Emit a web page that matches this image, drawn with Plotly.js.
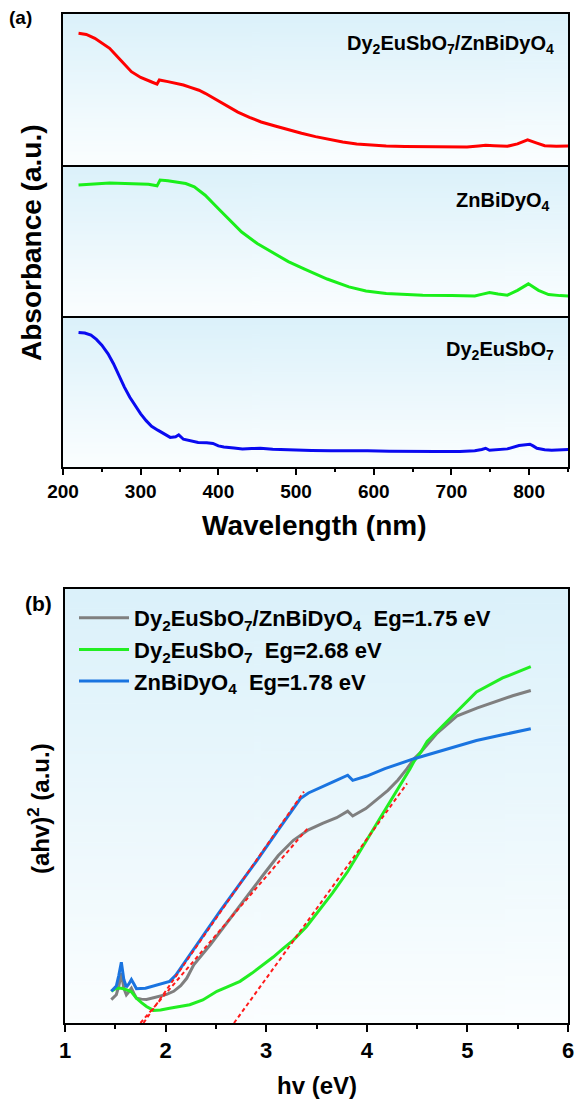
<!DOCTYPE html>
<html>
<head>
<meta charset="utf-8">
<script src="https://cdn.plot.ly/plotly-3.0.1.min.js"></script>
<style>
  html, body { margin: 0; padding: 0; background: #ffffff; }
  #chart { width: 575px; height: 1106px; }
</style>
</head>
<body>
<div id="chart"></div>
<script>
// ---------- (a) UV-vis absorbance spectra (normalised a.u. per sub-panel) ----------
const wlComposite = [220, 230, 241, 250, 260, 274, 288, 300, 307, 315, 321, 324, 335, 345, 355, 364, 375, 383, 395, 412, 425, 440, 455, 473, 490, 507, 525, 545, 560, 578, 600, 616, 640, 663, 690, 706, 720, 735, 744, 755, 772, 785, 798, 810, 820, 835, 851];
const absComposite = [0.872, 0.865, 0.839, 0.81, 0.773, 0.695, 0.618, 0.58, 0.563, 0.548, 0.536, 0.563, 0.552, 0.541, 0.53, 0.514, 0.495, 0.475, 0.44, 0.386, 0.35, 0.316, 0.285, 0.258, 0.232, 0.21, 0.188, 0.166, 0.152, 0.139, 0.131, 0.126, 0.123, 0.121, 0.119, 0.117, 0.12, 0.126, 0.13, 0.128, 0.124, 0.14, 0.166, 0.145, 0.128, 0.125, 0.126];

const wlZn = [220, 240, 260, 280, 298, 310, 321, 325, 335, 345, 358, 369, 383, 402, 415, 430, 450, 469, 490, 511, 540, 568, 590, 616, 640, 663, 700, 730, 740, 749, 760, 772, 785, 799, 812, 825, 840, 851];
const absZn = [0.867, 0.875, 0.88, 0.878, 0.876, 0.872, 0.862, 0.9, 0.896, 0.889, 0.877, 0.856, 0.8, 0.7, 0.63, 0.556, 0.48, 0.422, 0.36, 0.311, 0.245, 0.193, 0.166, 0.149, 0.142, 0.138, 0.135, 0.133, 0.145, 0.156, 0.146, 0.138, 0.17, 0.213, 0.17, 0.142, 0.135, 0.133];

const wlDy = [220, 228, 236, 243, 250, 258, 265, 272, 279, 286, 293, 300, 307, 314, 322, 330, 338, 345, 349, 355, 365, 374, 385, 393, 400, 407, 420, 431, 443, 454, 470, 497, 520, 545, 570, 592, 620, 640, 680, 711, 730, 739, 744, 749, 760, 772, 787, 801, 805, 810, 820, 829, 851];
const absDy = [0.891, 0.887, 0.873, 0.845, 0.807, 0.75, 0.684, 0.605, 0.529, 0.462, 0.407, 0.352, 0.307, 0.27, 0.244, 0.222, 0.196, 0.2, 0.213, 0.184, 0.173, 0.162, 0.16, 0.156, 0.14, 0.133, 0.126, 0.12, 0.122, 0.124, 0.118, 0.111, 0.109, 0.107, 0.108, 0.107, 0.104, 0.102, 0.102, 0.102, 0.108, 0.116, 0.124, 0.111, 0.114, 0.12, 0.142, 0.151, 0.14, 0.124, 0.114, 0.111, 0.116];

const wlTicks = [200, 300, 400, 500, 600, 700, 800];

// ---------- (b) Tauc plot, (αhν)^2 versus hν ----------
const hvComposite = [1.46, 1.51, 1.535, 1.56, 1.585, 1.61, 1.635, 1.66, 1.685, 1.71, 1.76, 1.81, 1.88, 1.94, 2.01, 2.08, 2.15, 2.21, 2.28, 2.45, 2.61, 2.79, 2.97, 3.12, 3.27, 3.42, 3.56, 3.7, 3.81, 3.86, 3.99, 4.1, 4.21, 4.31, 4.4, 4.47, 4.54, 4.7, 4.9, 5.1, 5.27, 5.45, 5.63];
const taucComposite = [5.4, 6.5, 8.5, 11.5, 8.0, 6.5, 7.2, 8.0, 6.8, 5.7, 5.5, 5.4, 5.8, 6.1, 6.6, 7.3, 8.6, 10.3, 13.4, 18.2, 23.0, 28.6, 34.1, 38.6, 42.1, 44.5, 46.0, 47.3, 48.8, 47.7, 49.4, 51.4, 53.6, 56.0, 58.6, 60.9, 62.5, 66.8, 70.8, 72.6, 74.0, 75.4, 76.6];

const hvDy = [1.46, 1.51, 1.56, 1.61, 1.66, 1.71, 1.76, 1.81, 1.88, 1.95, 2.04, 2.14, 2.24, 2.37, 2.51, 2.62, 2.74, 2.86, 2.97, 3.07, 3.17, 3.27, 3.4, 3.52, 3.66, 3.81, 3.94, 4.07, 4.18, 4.29, 4.43, 4.47, 4.54, 4.6, 4.8, 5.09, 5.35, 5.63];
const taucDy = [7.3, 8.0, 8.0, 7.7, 7.2, 5.7, 4.7, 3.8, 2.9, 3.0, 3.4, 3.8, 4.2, 5.3, 7.3, 8.4, 9.6, 11.5, 13.4, 15.2, 17.2, 19.1, 22.2, 25.7, 30.0, 34.9, 39.8, 44.8, 49.0, 53.3, 58.6, 60.3, 62.5, 64.9, 69.6, 76.3, 79.5, 82.1];

const hvZn = [1.46, 1.51, 1.535, 1.56, 1.585, 1.61, 1.635, 1.66, 1.685, 1.71, 1.8, 1.91, 2.04, 2.1, 2.25, 2.4, 2.54, 2.72, 2.9, 3.12, 3.34, 3.42, 3.52, 3.67, 3.81, 3.86, 4.0, 4.18, 4.47, 4.8, 5.09, 5.35, 5.63];
const taucZn = [7.3, 8.5, 11.0, 14.0, 10.0, 8.3, 9.0, 10.0, 9.0, 7.9, 8.0, 8.8, 9.6, 11.0, 16.1, 21.0, 25.7, 31.5, 37.2, 44.5, 51.7, 53.0, 54.0, 55.6, 57.1, 55.9, 56.9, 58.6, 60.9, 63.1, 65.1, 66.4, 67.8];

// band gaps (x-intercepts of the linear fits) and the upper end of each fit line
const seriesNames = ['Dy<sub>2</sub>EuSbO<sub>7</sub>/ZnBiDyO<sub>4</sub>', 'Dy<sub>2</sub>EuSbO<sub>7</sub>', 'ZnBiDyO<sub>4</sub>'];
const bandGaps = [1.75, 2.68, 1.78];
const fitEndHv = [3.41, 4.40, 3.375];
const fitEndTauc = [44.8, 55.2, 53.3];
const hvTicks = [1, 2, 3, 4, 5, 6];

// ---------- geometry helpers (pixel -> paper) ----------
const W = 575, H = 1106;
const px = v => v / W;
const py = v => 1 - v / H;

const FONT = 'Arial, "Liberation Sans", Helvetica, sans-serif';
const bold = (size) => ({ family: FONT, size: size, color: '#000000', weight: 'bold' });

// soft sky-blue vertical gradient used behind every frame
function gradientSource(top, bottom) {
  const c = document.createElement('canvas');
  c.width = 4; c.height = 256;
  const g = c.getContext('2d');
  const gr = g.createLinearGradient(0, 0, 0, 256);
  gr.addColorStop(0, top);
  gr.addColorStop(1, bottom);
  g.fillStyle = gr;
  g.fillRect(0, 0, 4, 256);
  return c.toDataURL('image/png');
}
const bgSrc = gradientSource('#dbf1fa', '#fbfeff');

// frame boundaries
const aLeft = 63, aRight = 568;
const aRows = [14, 165, 316, 467];        // top, two dividers, bottom of panel (a)
const bLeft = 65, bRight = 568, bTop = 589, bBottom = 1023;

function bgImage(x0, x1, y0, y1) {
  return { source: bgSrc, xref: 'paper', yref: 'paper', x: px(x0), y: py(y0),
           sizex: px(x1) - px(x0), sizey: py(y0) - py(y1), sizing: 'stretch',
           xanchor: 'left', yanchor: 'top', layer: 'below' };
}

const frameAxis = { showline: true, linecolor: '#000000', linewidth: 2, mirror: true,
                    showgrid: false, zeroline: false, fixedrange: true };

const traces = [
  // panel (a)
  { x: wlDy, y: absDy, xaxis: 'x', yaxis: 'y', mode: 'lines', showlegend: false,
    line: { color: '#0a0af0', width: 3 }, hoverinfo: 'skip' },
  { x: wlZn, y: absZn, xaxis: 'x2', yaxis: 'y2', mode: 'lines', showlegend: false,
    line: { color: '#1aef1a', width: 3 }, hoverinfo: 'skip' },
  { x: wlComposite, y: absComposite, xaxis: 'x3', yaxis: 'y3', mode: 'lines', showlegend: false,
    line: { color: '#ff0000', width: 3 }, hoverinfo: 'skip' },
];

// panel (b) curves
const taucColors = ['#7f7f7f', '#22ee22', '#1a74e0'];
const taucX = [hvComposite, hvDy, hvZn];
const taucY = [taucComposite, taucDy, taucZn];
for (let i = 0; i < 3; i++) {
  traces.push({
    x: taucX[i], y: taucY[i], xaxis: 'x4', yaxis: 'y4', mode: 'lines',
    name: seriesNames[i] + '\u00a0\u00a0Eg=' + bandGaps[i].toFixed(2) + ' eV',
    line: { color: taucColors[i], width: 3 }, hoverinfo: 'skip'
  });
}
// linear fits extrapolated to the energy axis
for (let i = 0; i < 3; i++) {
  traces.push({
    x: [bandGaps[i], fitEndHv[i]], y: [0, fitEndTauc[i]], xaxis: 'x4', yaxis: 'y4',
    mode: 'lines', showlegend: false, hoverinfo: 'skip',
    line: { color: '#ff1a1a', width: 2, dash: '4px,3px' }
  });
}

const layout = {
  width: W, height: H,
  margin: { l: 0, r: 0, t: 0, b: 0, autoexpand: false },
  paper_bgcolor: '#ffffff', plot_bgcolor: 'rgba(0,0,0,0)',
  showlegend: true,
  legend: {
    x: px(74), y: py(597), xanchor: 'left', yanchor: 'top',
    bgcolor: 'rgba(0,0,0,0)', borderwidth: 0,
    font: bold(22), itemwidth: 50, tracegroupgap: 0
  },
  // bottom sub-panel: bottom line only (the divider above comes from xaxis2)
  xaxis: Object.assign({}, frameAxis, {
    domain: [px(aLeft), px(aRight)], anchor: 'y', range: [200, 850], mirror: false,
    tickmode: 'array', tickvals: wlTicks, ticks: 'outside', ticklen: 6, tickwidth: 2, tickcolor: '#000',
    minor: { dtick: 50, tick0: 200, ticks: 'outside', ticklen: 3, tickwidth: 2, tickcolor: '#000' },
    tickfont: bold(19)
  }),
  xaxis2: Object.assign({}, frameAxis, {
    domain: [px(aLeft), px(aRight)], anchor: 'y2', matches: 'x', mirror: false,
    showticklabels: false, ticks: ''
  }),
  xaxis3: Object.assign({}, frameAxis, {
    domain: [px(aLeft), px(aRight)], anchor: 'y3', matches: 'x', mirror: true,
    showticklabels: false, ticks: ''
  }),
  yaxis: Object.assign({}, frameAxis, {
    domain: [py(aRows[3]), py(aRows[2])], anchor: 'x', range: [0, 1], showticklabels: false, ticks: ''
  }),
  yaxis2: Object.assign({}, frameAxis, {
    domain: [py(aRows[2]), py(aRows[1])], anchor: 'x2', range: [0, 1], showticklabels: false, ticks: ''
  }),
  yaxis3: Object.assign({}, frameAxis, {
    domain: [py(aRows[1]), py(aRows[0])], anchor: 'x3', range: [0, 1], showticklabels: false, ticks: ''
  }),
  xaxis4: Object.assign({}, frameAxis, {
    domain: [px(bLeft), px(bRight)], anchor: 'y4', range: [1, 6],
    tickmode: 'array', tickvals: hvTicks, ticks: 'outside', ticklen: 7, tickwidth: 2, tickcolor: '#000',
    minor: { dtick: 0.5, tick0: 1, ticks: 'outside', ticklen: 4, tickwidth: 2, tickcolor: '#000' },
    tickfont: bold(22)
  }),
  yaxis4: Object.assign({}, frameAxis, {
    domain: [py(bBottom), py(bTop)], anchor: 'x4', range: [0, 100], showticklabels: false, ticks: ''
  }),
  images: [
    bgImage(aLeft, aRight, aRows[0], aRows[1]),
    bgImage(aLeft, aRight, aRows[1], aRows[2]),
    bgImage(aLeft, aRight, aRows[2], aRows[3]),
    bgImage(bLeft, bRight, bTop, bBottom)
  ],
  annotations: [
    { text: '(a)', x: px(20), y: py(17), xref: 'paper', yref: 'paper', showarrow: false,
      xanchor: 'center', yanchor: 'middle', font: bold(19) },
    { text: '(b)', x: px(38), y: py(603), xref: 'paper', yref: 'paper', showarrow: false,
      xanchor: 'center', yanchor: 'middle', font: bold(21) },
    { text: 'Absorbance (a.u.)', x: px(31), y: py(243), xref: 'paper', yref: 'paper', showarrow: false,
      textangle: -90, xanchor: 'center', yanchor: 'middle', font: bold(28) },
    { text: 'Wavelength (nm)', x: px(315), y: py(525), xref: 'paper', yref: 'paper', showarrow: false,
      xanchor: 'center', yanchor: 'middle', font: bold(28) },
    { text: '(ahv)<sup>2</sup> (a.u.)', x: px(39), y: py(809), xref: 'paper', yref: 'paper', showarrow: false,
      textangle: -90, xanchor: 'center', yanchor: 'middle', font: bold(24) },
    { text: 'hv (eV)', x: px(317), y: py(1085), xref: 'paper', yref: 'paper', showarrow: false,
      xanchor: 'center', yanchor: 'middle', font: bold(24) },
    { text: seriesNames[0], x: px(556), y: py(44), xref: 'paper', yref: 'paper', showarrow: false,
      xanchor: 'right', yanchor: 'middle', font: bold(20) },
    { text: seriesNames[2], x: px(552), y: py(201), xref: 'paper', yref: 'paper', showarrow: false,
      xanchor: 'right', yanchor: 'middle', font: bold(20) },
    { text: seriesNames[1], x: px(556), y: py(350), xref: 'paper', yref: 'paper', showarrow: false,
      xanchor: 'right', yanchor: 'middle', font: bold(20) }
  ]
};

Plotly.newPlot('chart', traces, layout, { staticPlot: true, displayModeBar: false });
</script>
</body>
</html>
